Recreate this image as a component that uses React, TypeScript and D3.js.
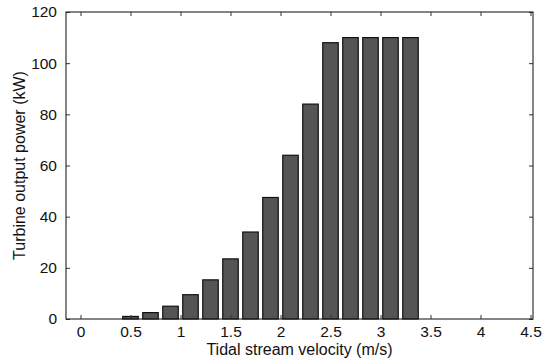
import React, { useEffect, useRef } from 'react';
import * as d3 from 'd3';

// velocity bins (m/s) and turbine power (kW)
const velocities = [0.5, 0.7, 0.9, 1.1, 1.3, 1.5, 1.7, 1.9, 2.1, 2.3, 2.5, 2.7, 2.9, 3.1, 3.3];
const power = [1, 2.5, 5, 9.5, 15.3, 23.5, 34, 47.5, 64, 84, 108, 110, 110, 110, 110];
const xTicks = [0, 0.5, 1, 1.5, 2, 2.5, 3, 3.5, 4, 4.5];
const yTicks = [0, 20, 40, 60, 80, 100, 120];

const W = 550;
const H = 364;

const App = () => {
  const ref = useRef<SVGSVGElement | null>(null);

  useEffect(() => {
    const svg = d3.select(ref.current);
    svg.selectAll('*').remove();

    const left = 66, right = 533, top = 12, bottom = 319;
    const font = 'Liberation Sans, Arial, sans-serif';

    const x = d3.scaleLinear().domain([-0.145, 4.525]).range([left, right]);
    const y = d3.scaleLinear().domain([0, 120]).range([bottom, top]);

    svg.append('rect')
      .attr('width', W).attr('height', H).attr('fill', '#fff');

    // bars
    const barW = x(0.155) - x(0);
    svg.append('g')
      .selectAll('rect')
      .data(velocities)
      .join('rect')
      .attr('x', (d) => x(d) - barW / 2)
      .attr('y', (d, i) => y(power[i]))
      .attr('width', barW)
      .attr('height', (d, i) => bottom - y(power[i]))
      .attr('fill', '#555555')
      .attr('stroke', '#111')
      .attr('stroke-width', 1.2);

    // axes, ticks pointing inwards on all four sides
    const xAxis = d3.axisBottom(x).tickValues(xTicks).tickSizeInner(-4).tickSizeOuter(0)
      .tickPadding(9).tickFormat((d) => String(d));
    const xTop = d3.axisTop(x).tickValues(xTicks).tickSizeInner(-4).tickSizeOuter(0).tickFormat(() => '');
    const yAxis = d3.axisLeft(y).tickValues(yTicks).tickSizeInner(-4).tickSizeOuter(0)
      .tickPadding(9).tickFormat((d) => String(d));
    const yRight = d3.axisRight(y).tickValues(yTicks).tickSizeInner(-4).tickSizeOuter(0).tickFormat(() => '');

    const gx = svg.append('g').attr('transform', 'translate(0,' + bottom + ')').call(xAxis);
    svg.append('g').attr('transform', 'translate(0,' + top + ')').call(xTop);
    const gy = svg.append('g').attr('transform', 'translate(' + left + ',0)').call(yAxis);
    svg.append('g').attr('transform', 'translate(' + right + ',0)').call(yRight);

    svg.selectAll('.domain').remove();
    svg.selectAll('.tick line').attr('stroke', '#333').attr('stroke-width', 1);
    [gx, gy].forEach((g) => g.selectAll('text')
      .attr('font-family', font).attr('font-size', 15.5).attr('fill', '#111'));
    gx.selectAll('text').attr('dy', '0.72em').attr('y', 7);

    // frame
    svg.append('rect')
      .attr('x', left).attr('y', top)
      .attr('width', right - left).attr('height', bottom - top)
      .attr('fill', 'none').attr('stroke', '#222').attr('stroke-width', 1.1);

    svg.append('text')
      .attr('x', (left + right) / 2).attr('y', 355)
      .attr('text-anchor', 'middle')
      .attr('font-family', font).attr('font-size', 16).attr('fill', '#111')
      .text('Tidal stream velocity (m/s)');

    svg.append('text')
      .attr('transform', 'translate(25,' + (top + bottom) / 2 + ') rotate(-90)')
      .attr('text-anchor', 'middle')
      .attr('font-family', font).attr('font-size', 16).attr('fill', '#111')
      .text('Turbine output power (kW)');
  }, []);

  return (
    <svg ref={ref} width={W} height={H}
      style={{ position: 'absolute', left: 0, top: 0, display: 'block' }} />
  );
};

export default App;
